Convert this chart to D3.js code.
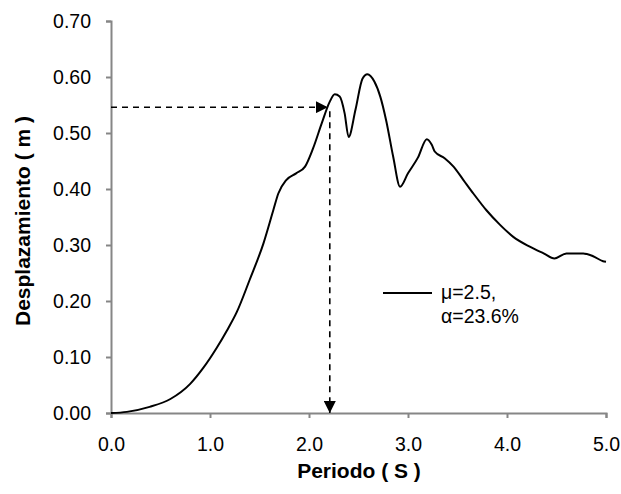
<!DOCTYPE html>
<html><head><meta charset="utf-8">
<script src="https://cdn.jsdelivr.net/npm/d3@7"></script>
<style>body{margin:0;background:#fff}svg{display:block}text{font-family:"Liberation Sans",Arial,sans-serif}</style>
</head><body>
<svg id="c" width="621" height="494"></svg>
<script>
const periods = [0, 0.16, 0.39, 0.60, 0.80, 0.93, 1.07, 1.17, 1.27, 1.40, 1.54, 1.64, 1.69, 1.77, 1.87, 1.96, 2.04, 2.13, 2.21, 2.26, 2.31, 2.36, 2.40, 2.47, 2.54, 2.59, 2.66, 2.72, 2.78, 2.85, 2.92, 3.00, 3.10, 3.19, 3.24, 3.27, 3.37, 3.46, 3.56, 3.66, 3.79, 3.93, 4.06, 4.23, 4.37, 4.48, 4.60, 4.77, 4.87, 4.97, 5.0];
const disp = [0, 0.002, 0.011, 0.025, 0.052, 0.08, 0.117, 0.147, 0.180, 0.2375, 0.303, 0.3625, 0.392, 0.416, 0.428, 0.44, 0.472, 0.518, 0.556, 0.569, 0.565, 0.535, 0.493, 0.542, 0.597, 0.605, 0.592, 0.565, 0.522, 0.458, 0.404, 0.428, 0.456, 0.489, 0.479, 0.467, 0.455, 0.44, 0.416, 0.392, 0.3625, 0.336, 0.315, 0.297, 0.285, 0.276, 0.285, 0.285, 0.280, 0.271, 0.27];
const xTicks = [0, 1, 2, 3, 4, 5];
const yTicks = [0, 0.1, 0.2, 0.3, 0.4, 0.5, 0.6, 0.7];
const markerPeriod = 2.21;
const markerDisp = 0.546;
const legendLines = ["μ=2.5,", "α=23.6%"];
const xTitle = "Periodo ( S )";
const yTitle = "Desplazamiento ( m )";

const svg = d3.select("#c");
const x = d3.scaleLinear().domain([0, 5]).range([111, 606]);
const y = d3.scaleLinear().domain([0, 0.7]).range([413, 21]);
const axisColor = "#868686";

const xa = svg.append("g").attr("transform", "translate(0,413)")
  .call(d3.axisBottom(x).tickValues(xTicks).tickFormat(d3.format(".1f")).tickSizeOuter(0).tickSize(5).tickPadding(19));
const ya = svg.append("g").attr("transform", "translate(111,0)")
  .call(d3.axisLeft(y).tickValues(yTicks).tickFormat(d3.format(".2f")).tickSizeOuter(0).tickSize(5).tickPadding(15));
[xa, ya].forEach(a => {
  a.select(".domain").attr("stroke", axisColor).attr("stroke-width", 2);
  a.selectAll(".tick line").attr("stroke", axisColor).attr("stroke-width", 2);
  a.selectAll("text").attr("font-size", 19.5).attr("fill", "#000")
    .style("font-family", '"Liberation Sans",Arial,sans-serif');
});

svg.append("text").attr("x", 359).attr("y", 478).attr("text-anchor", "middle")
  .attr("font-size", 21).attr("font-weight", "bold").text(xTitle);
svg.append("text").attr("transform", "translate(30,221) rotate(-90)").attr("text-anchor", "middle")
  .attr("font-size", 21).attr("font-weight", "bold").text(yTitle);

const defs = svg.append("defs");
defs.append("marker").attr("id", "ah2").attr("viewBox", "0 0 10 10").attr("refX", 10).attr("refY", 5)
  .attr("markerWidth", 12).attr("markerHeight", 12).attr("markerUnits", "userSpaceOnUse").attr("orient", "auto")
  .append("path").attr("d", "M0,0L10,5L0,10Z").attr("fill", "#000");

const pts = periods.map((p, i) => [p, disp[i]]);
svg.append("path").datum(pts)
  .attr("d", d3.line().x(d => x(d[0])).y(d => y(d[1])).curve(d3.curveMonotoneX))
  .attr("fill", "none").attr("stroke", "#000").attr("stroke-width", 2);

svg.append("line").attr("x1", x(0)).attr("x2", x(markerPeriod - 0.02)).attr("y1", y(markerDisp)).attr("y2", y(markerDisp))
  .attr("stroke", "#000").attr("stroke-width", 1.6).attr("stroke-dasharray", "6,5").attr("marker-end", "url(#ah2)");
svg.append("line").attr("x1", x(markerPeriod)).attr("x2", x(markerPeriod)).attr("y1", y(markerDisp) + 4).attr("y2", y(0))
  .attr("stroke", "#000").attr("stroke-width", 1.6).attr("stroke-dasharray", "6,5").attr("marker-end", "url(#ah2)");

svg.append("line").attr("x1", 383).attr("x2", 432).attr("y1", 293).attr("y2", 293).attr("stroke", "#000").attr("stroke-width", 2);
svg.selectAll(".lg").data(legendLines).enter().append("text")
  .attr("x", 441).attr("y", (d, i) => 299 + i * 24).attr("font-size", 19.5).text(d => d);
</script>
</body></html>
